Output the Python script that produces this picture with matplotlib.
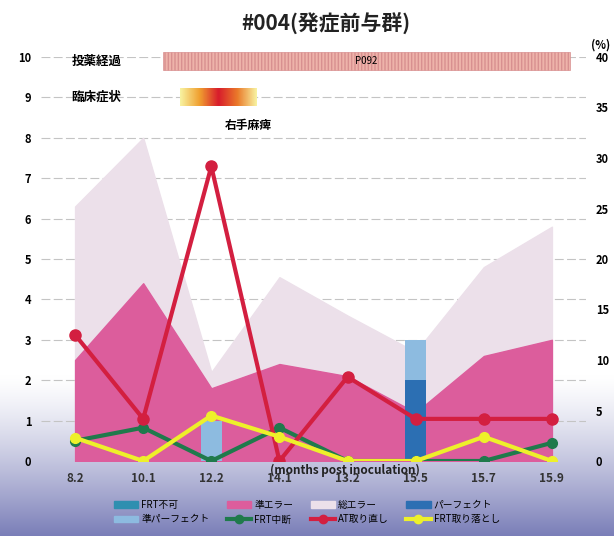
import numpy as np
import matplotlib.pyplot as plt
from matplotlib.patches import Patch
from matplotlib.lines import Line2D
from matplotlib.colors import LinearSegmentedColormap

plt.rcParams['font.family'] = ['Noto Sans CJK JP', 'DejaVu Sans']

# data
months = ['8.2', '10.1', '12.2', '14.1', '13.2', '15.5', '15.7', '15.9']
total_error = [6.3, 8.0, 2.2, 4.55, 3.6, 2.7, 4.8, 5.8]      # 総エラー
semi_error = [2.5, 4.4, 1.8, 2.4, 2.1, 1.2, 2.6, 3.0]        # 準エラー
perfect = [0, 0, 0, 0, 0, 2, 0, 0]                           # パーフェクト
semi_perfect = [0, 0, 1, 0, 0, 1, 0, 0]                      # 準パーフェクト
frt_stop = [2.0, 3.3, 0, 3.3, 0, 0, 0, 1.8]                  # FRT中断 (%)
at_retake = [12.5, 4.17, 29.17, 0, 8.33, 4.17, 4.17, 4.17]   # AT取り直し (%)
frt_drop = [2.3, 0, 4.5, 2.4, 0, 0, 2.4, 0]                  # FRT取り落とし (%)

c_total = '#ece0ea'
c_semi = '#dc5d9c'
c_perf = '#2c6fb3'
c_sperf = '#8dbbe0'
c_ng = '#2f8fb0'
c_green = '#1f7a4c'
c_red = '#d31f40'
c_yellow = '#eef02a'

fig = plt.figure(figsize=(6.14, 5.36), dpi=100)

# scanned-looking background gradient
bg = fig.add_axes([0, 0, 1, 1], zorder=-10)
rows = np.linspace(0, 1, 536)
t = np.clip((rows - 0.70) / 0.30, 0, 1) ** 1.3
white = np.array([1.0, 1.0, 1.0])
blue = np.array([122, 126, 184]) / 255
img = white[None, :] * (1 - t[:, None]) + blue[None, :] * t[:, None]
bg.imshow(img[:, None, :], aspect='auto', extent=[0, 1, 1, 0])
bg.axis('off')

ax = fig.add_axes([41 / 614, 75 / 536, 545 / 614, 404 / 536])
ax.patch.set_alpha(0)
x = np.arange(len(months))

ax.fill_between(x, total_error, color=c_total, zorder=2)
ax.fill_between(x, semi_error, color=c_semi, zorder=3)
ax.bar(x, perfect, width=0.31, color=c_perf, zorder=4)
ax.bar(x, semi_perfect, width=0.31, bottom=perfect, color=c_sperf, zorder=4)

ax.set_xlim(-0.5, len(months) - 0.5)
ax.set_ylim(0, 10)
ax.set_yticks(range(0, 11))
ax.set_xticks(x)
ax.set_xticklabels(months, fontsize=8.5, fontweight='bold', color='#333333')
ax.tick_params(axis='x', length=0, pad=8)
ax.tick_params(axis='y', length=0, pad=7, labelsize=8)
for lab in ax.get_yticklabels():
    lab.set_fontweight('bold')
for yv in range(1, 11):
    ax.axhline(yv, color='#c4c4c4', lw=0.8, ls=(0, (8, 3)), zorder=1)
for s in ax.spines.values():
    s.set_visible(False)

ax2 = ax.twinx()
ax2.set_ylim(0, 40)
ax2.set_yticks(range(0, 41, 5))
ax2.tick_params(axis='y', length=0, pad=7, labelsize=8)
for lab in ax2.get_yticklabels():
    lab.set_fontweight('bold')
for s in ax2.spines.values():
    s.set_visible(False)

ax2.plot(x, frt_stop, color=c_green, lw=3, marker='o', ms=7, zorder=5)
ax2.plot(x, at_retake, color=c_red, lw=3, marker='o', ms=8, zorder=6)
ax2.plot(x, frt_drop, color=c_yellow, lw=3, marker='o', ms=7, zorder=7)

# top annotations
ax.add_patch(plt.Rectangle((1.29, 9.68), 5.97, 0.44, facecolor='#eeb3aa',
                           edgecolor='#d89090', hatch='|||||', lw=0.5,
                           clip_on=False, zorder=3))
ax.text(4.27, 9.9, 'P092', ha='center', va='center', fontsize=7, zorder=4)
ax.text(-0.05, 9.9, '投薬経過', ha='left', va='center', fontsize=9, fontweight='bold')
ax.text(-0.05, 9.0, '臨床症状', ha='left', va='center', fontsize=9, fontweight='bold')
cmap = LinearSegmentedColormap.from_list(
    'sym', ['#f8f2a0', '#f0a030', '#d81c2c', '#ea7a2a', '#f8f2a0'])
ax.imshow(np.linspace(0, 1, 100)[None, :], cmap=cmap, aspect='auto',
          extent=[1.54, 2.67, 8.79, 9.23], zorder=3)
ax.text(2.54, 8.3, '右手麻痺', ha='center', va='center', fontsize=8.5, fontweight='bold')
ax.set_xlim(-0.5, len(months) - 0.5)
ax.set_ylim(0, 10)

fig.text(0.53, 0.958, '#004(発症前与群)', ha='center', va='center',
         fontsize=15, fontweight='bold', color='#222222')
fig.text(601 / 614, 1 - 45 / 536, '(%)', ha='center', va='center', fontsize=8, fontweight='bold')
fig.text(345 / 614, 1 - 470 / 536, '(months post inoculation)', ha='center', va='center',
         fontsize=8.5, fontweight='bold', color='#222222')

handles = [
    Patch(color=c_ng, label='FRT不可'),
    Patch(color=c_sperf, label='準パーフェクト'),
    Patch(color=c_semi, label='準エラー'),
    Line2D([], [], color=c_green, lw=3, marker='o', ms=6, label='FRT中断'),
    Patch(color=c_total, label='総エラー'),
    Line2D([], [], color=c_red, lw=3, marker='o', ms=6, label='AT取り直し'),
    Patch(color=c_perf, label='パーフェクト'),
    Line2D([], [], color=c_yellow, lw=3, marker='o', ms=6, label='FRT取り落とし'),
]
fig.legend(handles=handles, ncol=4, loc='center', bbox_to_anchor=(0.5, 1 - 512 / 536),
           frameon=False, fontsize=7, handlelength=2.5, columnspacing=1.8,
           labelspacing=0.5, handletextpad=0.3)

fig.savefig('out.png', dpi=100)
